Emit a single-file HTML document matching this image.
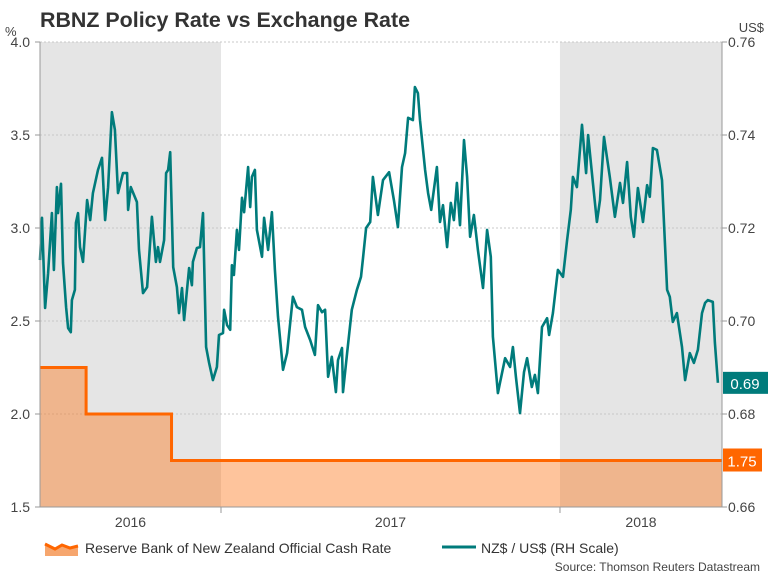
<!DOCTYPE html>
<html><head><meta charset="utf-8"><style>
html,body{margin:0;padding:0;background:#fff;}
svg{display:block;font-family:"Liberation Sans",Arial,sans-serif;}
</style></head><body>
<svg id="chart" width="768" height="576" viewBox="0 0 768 576" xmlns="http://www.w3.org/2000/svg">
<text x="40" y="27" font-size="21" font-weight="bold" fill="#333" textLength="370" lengthAdjust="spacingAndGlyphs">RBNZ Policy Rate vs Exchange Rate</text>
<text x="5" y="36" font-size="13" fill="#444">%</text>
<text x="764" y="32" font-size="13" fill="#444" text-anchor="end">US$</text>
<g id="bands"></g>
<g id="grid"></g>
<g id="rate"></g>
<g id="fx"></g>
<g id="axes"></g>
<g>
  <path d="M45,544 L55,549 L62,545 L70,548 L78,546 L78,556 L45,556 Z" fill="#f6a66e"/>
  <path d="M45,544 L55,549 L62,545 L70,548 L78,546" stroke="#ff6600" stroke-width="3" fill="none"/>
  <text x="85" y="553" font-size="14" fill="#333">Reserve Bank of New Zealand Official Cash Rate</text>
  <line x1="442" y1="547" x2="476" y2="547" stroke="#007b7b" stroke-width="3"/>
  <text x="481" y="553" font-size="14" fill="#333">NZ$ / US$ (RH Scale)</text>
</g>
<text x="760" y="571" font-size="12" fill="#444" text-anchor="end">Source: Thomson Reuters Datastream</text>
</svg>
<script>
const fxDates=[2016.466,2016.472,2016.481,2016.490,2016.501,2016.507,2016.516,2016.519,2016.528,2016.534,2016.543,2016.549,2016.557,2016.560,2016.569,2016.572,2016.578,2016.584,2016.593,2016.605,2016.614,2016.622,2016.637,2016.649,2016.658,2016.667,2016.678,2016.687,2016.696,2016.711,2016.723,2016.726,2016.734,2016.752,2016.758,2016.770,2016.782,2016.796,2016.808,2016.814,2016.820,2016.832,2016.838,2016.844,2016.850,2016.859,2016.870,2016.876,2016.885,2016.891,2016.906,2016.914,2016.917,2016.929,2016.938,2016.947,2016.956,2016.965,2016.976,2016.988,2016.994,2017.006,2017.009,2017.018,2017.027,2017.032,2017.038,2017.047,2017.053,2017.062,2017.068,2017.080,2017.086,2017.091,2017.100,2017.106,2017.121,2017.127,2017.139,2017.150,2017.159,2017.168,2017.183,2017.195,2017.212,2017.224,2017.239,2017.248,2017.263,2017.277,2017.286,2017.298,2017.307,2017.316,2017.327,2017.339,2017.345,2017.357,2017.360,2017.372,2017.386,2017.401,2017.413,2017.419,2017.428,2017.440,2017.448,2017.463,2017.478,2017.496,2017.510,2017.522,2017.534,2017.543,2017.552,2017.566,2017.572,2017.581,2017.587,2017.602,2017.611,2017.620,2017.637,2017.646,2017.655,2017.667,2017.678,2017.687,2017.696,2017.705,2017.717,2017.726,2017.735,2017.746,2017.758,2017.773,2017.785,2017.796,2017.802,2017.817,2017.823,2017.838,2017.853,2017.861,2017.870,2017.882,2017.894,2017.903,2017.917,2017.926,2017.935,2017.947,2017.962,2017.968,2017.979,2017.994,2018.009,2018.021,2018.032,2018.038,2018.050,2018.065,2018.077,2018.083,2018.097,2018.109,2018.118,2018.130,2018.147,2018.162,2018.177,2018.186,2018.198,2018.209,2018.218,2018.230,2018.245,2018.257,2018.265,2018.274,2018.286,2018.301,2018.316,2018.324,2018.333,2018.345,2018.360,2018.369,2018.383,2018.395,2018.407,2018.419,2018.428,2018.436,2018.451,2018.457,2018.466];
const fxValues=[0.7131,0.7222,0.7028,0.7103,0.7232,0.7110,0.7288,0.7232,0.7295,0.7125,0.7030,0.6985,0.6976,0.7045,0.7067,0.7211,0.7232,0.7159,0.7127,0.7260,0.7217,0.7275,0.7325,0.7351,0.7217,0.7288,0.7449,0.7411,0.7275,0.7318,0.7318,0.7239,0.7288,0.7256,0.7153,0.7060,0.7073,0.7224,0.7127,0.7159,0.7127,0.7174,0.7318,0.7325,0.7363,0.7116,0.7073,0.7017,0.7071,0.7002,0.7114,0.7077,0.7127,0.7157,0.7159,0.7232,0.6944,0.6910,0.6873,0.6901,0.6970,0.6974,0.7024,0.6991,0.6981,0.7120,0.7099,0.7196,0.7153,0.7265,0.7234,0.7331,0.7245,0.7310,0.7325,0.7196,0.7138,0.7222,0.7153,0.7234,0.7110,0.7009,0.6895,0.6931,0.7052,0.7030,0.7024,0.6987,0.6959,0.6927,0.7034,0.7019,0.7024,0.6880,0.6923,0.6847,0.6916,0.6942,0.6847,0.6931,0.7024,0.7067,0.7095,0.7135,0.7200,0.7213,0.7310,0.7228,0.7303,0.7320,0.7260,0.7202,0.7331,0.7361,0.7437,0.7432,0.7503,0.7490,0.7432,0.7325,0.7275,0.7239,0.7331,0.7213,0.7249,0.7159,0.7254,0.7217,0.7297,0.7206,0.7389,0.7310,0.7181,0.7228,0.7153,0.7071,0.7196,0.7138,0.6966,0.6845,0.6867,0.6920,0.6901,0.6944,0.6880,0.6802,0.6890,0.6920,0.6858,0.6884,0.6845,0.6987,0.7006,0.6970,0.7017,0.7110,0.7095,0.7174,0.7239,0.7310,0.7288,0.7422,0.7318,0.7400,0.7297,0.7213,0.7260,0.7396,0.7310,0.7224,0.7297,0.7254,0.7342,0.7224,0.7181,0.7286,0.7213,0.7292,0.7267,0.7372,0.7368,0.7303,0.7067,0.7052,0.6998,0.7017,0.6944,0.6873,0.6931,0.6910,0.6938,0.7017,0.7039,0.7045,0.7041,0.6953,0.6867];
const rateDates=[2016.466,2016.602,2016.854,2018.478];
const rateValues=[2.25,2.00,1.75,1.75];
const leftTicks=[1.5,2.0,2.5,3.0,3.5,4.0];
const rightTicks=[0.66,0.68,0.70,0.72,0.74,0.76];
const yearLabels=["2016","2017","2018"];
const yearStarts=[2016,2017,2018];

const X0=40,X1=722,T0=2016.466,T1=2018.478,YT=42,YB=507;
const xS=t=>X0+(t-T0)/(T1-T0)*(X1-X0);
const yL=v=>YB-(v-1.5)/2.5*(YB-YT);
const yR=v=>YB-(v-0.66)/0.10*(YB-YT);
const NS="http://www.w3.org/2000/svg";
function mk(tag,attrs,parent){const e=document.createElementNS(NS,tag);for(const k in attrs)e.setAttribute(k,attrs[k]);parent.appendChild(e);return e;}

const bands=document.getElementById('bands');
yearStarts.forEach((y,i)=>{
  if(i%2===0){
    const a=Math.max(xS(y),X0),b=Math.min(xS(y+1),X1);
    const r=mk('rect',{x:a,y:YT,width:b-a,height:YB-YT,fill:'#e5e5e5'},bands);
    
    
  }
});
const grid=document.getElementById('grid');
leftTicks.forEach(v=>{
  if(v===1.5)return;
  const l=mk('line',{x1:X0,x2:X1,y1:yL(v),y2:yL(v),stroke:'#c8c8c8','stroke-width':1,'stroke-dasharray':'2,2'},grid);
  
  
});

// rate area + line
const rate=document.getElementById('rate');
let d='';
rateDates.forEach((t,i)=>{
  const x=xS(t),y=yL(rateValues[i]);
  if(i===0)d+='M'+x+','+y;
  else d+=' L'+x+','+yL(rateValues[i-1])+' L'+x+','+y;
});
const ar=mk('path',{d:d+' L'+xS(T1)+','+YB+' L'+X0+','+YB+' Z',fill:'rgb(252,114,19)','fill-opacity':0.42},rate);


const ln=mk('path',{d:d,fill:'none',stroke:'#ff6600','stroke-width':3},rate);



// fx line
const fx=document.getElementById('fx');
const fd=fxDates.map((t,i)=>(i?'L':'M')+xS(t).toFixed(1)+','+yR(fxValues[i]).toFixed(1)).join(' ');
const fl=mk('path',{d:fd,fill:'none',stroke:'#007b7b','stroke-width':2.6,'stroke-linejoin':'round'},fx);



// axes
const ax=document.getElementById('axes');
const a1=mk('line',{x1:X0,x2:X0,y1:YT,y2:YB,stroke:'#999'},ax);


const a2=mk('line',{x1:X1,x2:X1,y1:YT,y2:YB,stroke:'#999'},ax);


const a3=mk('line',{x1:X0,x2:X1,y1:YB,y2:YB,stroke:'#999'},ax);


leftTicks.forEach(v=>{
  mk('line',{x1:X0-5,x2:X0,y1:yL(v),y2:yL(v),stroke:'#999'},ax);
  const t=mk('text',{x:X0-10,y:yL(v)+5,'font-size':14,fill:'#444','text-anchor':'end'},ax);
  t.textContent=v.toFixed(1);
  
  
});
rightTicks.forEach(v=>{
  mk('line',{x1:X1,x2:X1+5,y1:yR(v),y2:yR(v),stroke:'#999'},ax);
  const t=mk('text',{x:X1+6,y:yR(v)+5,'font-size':14,fill:'#444'},ax);
  t.textContent=v.toFixed(2);
  
  
});
yearStarts.forEach((y,i)=>{
  if(xS(y)>X0)mk('line',{x1:xS(y),x2:xS(y),y1:YB,y2:YB+6,stroke:'#999'},ax);
  const a=Math.max(xS(y),X0),b=Math.min(xS(y+1),X1);
  const t=mk('text',{x:(a+b)/2,y:527,'font-size':14,fill:'#444','text-anchor':'middle'},ax);
  t.textContent=yearLabels[i];
  
  
});
// end value labels
const lastFx=fxValues[fxValues.length-1];
const fb=mk('rect',{x:X1+1,y:yR(lastFx)-11,width:45,height:22,fill:'#007b7b'},ax);


const ft=mk('text',{x:X1+23,y:yR(lastFx)+6,'font-size':15,fill:'#fff','text-anchor':'middle'},ax);
ft.textContent=lastFx.toFixed(2);


const lastR=rateValues[rateValues.length-1];
const rb=mk('rect',{x:X1+1,y:yL(lastR)-12,width:39,height:23,fill:'#ff6600'},ax);


const rt=mk('text',{x:X1+20,y:yL(lastR)+6,'font-size':15,fill:'#fff','text-anchor':'middle'},ax);
rt.textContent=lastR.toFixed(2);


</script>
</body></html>
